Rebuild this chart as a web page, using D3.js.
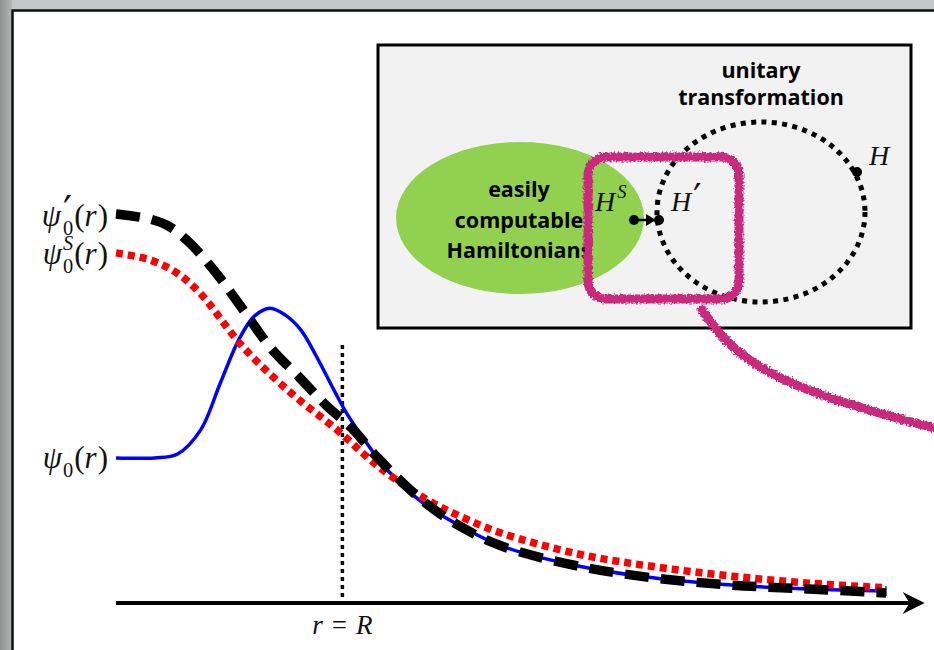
<!DOCTYPE html>
<html>
<head>
<meta charset="utf-8">
<script src="https://cdn.jsdelivr.net/npm/d3@7/dist/d3.min.js"></script>
<style>
  html, body { margin: 0; padding: 0; background: #c4c6c7; }
  svg { display: block; }
  .math { font-family: "Liberation Serif", "DejaVu Serif", serif; fill: #111; }
  .label { font-family: "Open Sans", "Lato", sans-serif; font-weight: 700; fill: #000; }
</style>
</head>
<body>
<svg id="chart" width="934" height="650"></svg>
<script>
// r in units of the axis (0..10), psi in units of psi'_0(0)
const rAxisEnd = 10.45;
const rBoundary = 2.94;
const boundaryTop = 0.663;

const psiPrimeR = [0, 0.44, 0.7, 0.97, 1.29, 1.68, 2.0, 2.39, 2.74, 3.06, 3.4, 4.0, 4.49, 5.0, 6.0, 7.0, 8.0, 9.0, 10];
const psiPrimeV = [1.0, 0.987, 0.967, 0.923, 0.851, 0.746, 0.658, 0.578, 0.506, 0.45, 0.373, 0.26, 0.195, 0.147, 0.095, 0.064, 0.046, 0.036, 0.026];

const psiSR = [0, 0.44, 0.77, 1.09, 1.65, 2.26, 2.87, 3.4, 4.0, 4.49, 5.0, 6.0, 7.0, 8.0, 9.0, 10];
const psiSV = [0.9, 0.882, 0.851, 0.797, 0.658, 0.542, 0.445, 0.352, 0.27, 0.221, 0.18, 0.126, 0.093, 0.069, 0.051, 0.039];

const psi0R = [0, 0.5, 0.8, 1.1, 1.35, 1.6, 1.8, 2.0, 2.2, 2.4, 2.6, 2.85, 3.0, 3.2, 3.5, 4.0, 4.5, 5.0, 6.0, 7.0, 8.0, 9.0, 10];
const psi0V = [0.373, 0.373, 0.383, 0.445, 0.563, 0.679, 0.738, 0.758, 0.74, 0.702, 0.635, 0.54, 0.486, 0.427, 0.347, 0.255, 0.195, 0.147, 0.095, 0.064, 0.046, 0.036, 0.031];

const svg = d3.select('#chart');
const x = d3.scaleLinear().domain([0, 10]).range([116, 886]);
const y = d3.scaleLinear().domain([0, 1]).range([603, 214]);

// window frame
const defs = svg.append('defs');
const grad = defs.append('linearGradient').attr('id', 'edge').attr('x1', 0).attr('x2', 1);
grad.append('stop').attr('offset', 0).attr('stop-color', '#8f9090');
grad.append('stop').attr('offset', 1).attr('stop-color', '#b4b5b5');
const rough = defs.append('filter').attr('id', 'rough')
  .attr('x', -0.1).attr('y', -0.1).attr('width', 1.2).attr('height', 1.2);
rough.append('feTurbulence').attr('type', 'fractalNoise').attr('baseFrequency', 0.5)
  .attr('numOctaves', 2).attr('seed', 3).attr('result', 'noise');
rough.append('feDisplacementMap').attr('in', 'SourceGraphic').attr('in2', 'noise')
  .attr('scale', 6).attr('xChannelSelector', 'R').attr('yChannelSelector', 'G');

svg.append('rect').attr('width', 934).attr('height', 650).attr('fill', '#c4c6c7');
svg.append('rect').attr('width', 12).attr('height', 650).attr('fill', 'url(#edge)');
svg.append('rect').attr('x', 12.5).attr('y', 10.5).attr('width', 940).attr('height', 650)
  .attr('fill', '#fff').attr('stroke', '#111').attr('stroke-width', 2.5);

const toPts = (rs, vs) => rs.map((r, i) => [r, vs[i]]);
const line = d3.line().x(d => x(d[0])).y(d => y(d[1])).curve(d3.curveCatmullRom.alpha(0.5));

// axis
const axisY = y(0);
svg.append('line').attr('x1', x(0)).attr('x2', x(rAxisEnd) - 6).attr('y1', axisY).attr('y2', axisY)
  .attr('stroke', '#000').attr('stroke-width', 4);
const tip = x(rAxisEnd) + 4;
svg.append('path')
  .attr('d', `M${tip},${axisY} L${tip - 22},${axisY - 11} L${tip - 15},${axisY} L${tip - 22},${axisY + 11} Z`)
  .attr('fill', '#000');

// r = R marker
svg.append('line').attr('x1', x(rBoundary)).attr('x2', x(rBoundary))
  .attr('y1', y(boundaryTop)).attr('y2', axisY - 2)
  .attr('stroke', '#000').attr('stroke-width', 3.5).attr('stroke-dasharray', '4 4');

// curves
svg.append('path').datum(toPts(psi0R, psi0V)).attr('d', line)
  .attr('fill', 'none').attr('stroke', '#0000ff').attr('stroke-width', 3.5);
svg.append('line').attr('x1', x(10)).attr('x2', x(10)).attr('y1', y(0.031) - 5).attr('y2', y(0.031) + 5)
  .attr('stroke', '#000').attr('stroke-width', 1.2);
svg.append('path').datum(toPts(psiSR, psiSV)).attr('d', line)
  .attr('fill', 'none').attr('stroke', '#ff0000').attr('stroke-width', 7.5).attr('stroke-dasharray', '7 5');
svg.append('path').datum(toPts(psiPrimeR, psiPrimeV)).attr('d', line)
  .attr('fill', 'none').attr('stroke', '#000').attr('stroke-width', 9.5).attr('stroke-dasharray', '24 12');

// math labels: one text element, parts as tspans; "stack" puts a part under the previous one
function mathLabel(px, py, parts, size, anchor) {
  const t = svg.append('text').attr('class', 'math').attr('x', px).attr('y', py)
    .attr('font-size', size);
  let level = 0, total = 0, pending = 0, prevW = 0;
  parts.forEach(p => {
    const fs = p.fs ? size * p.fs : p.pos ? size * 0.66 : size;
    const target = p.lift !== undefined ? size * p.lift
      : p.pos === 'sup' ? size * 0.45 : p.pos === 'sub' ? -size * 0.3 : 0;
    const s = t.append('tspan').attr('font-size', fs)
      .attr('font-style', p.i ? 'italic' : 'normal').text(p.t);
    if (p.font) s.style('font-family', p.font);
    let dx = pending + (p.dx || 0);
    if (p.stack) dx -= prevW;
    s.attr('dx', dx).attr('dy', level - target);
    level = target;
    const w = s.node().getComputedTextLength();
    total += dx + w;
    pending = p.gap || 0;
    if (p.stack && prevW > w) { pending += prevW - w; }
    prevW = w;
  });
  total += pending;
  const off = anchor === 'end' ? -total : anchor === 'middle' ? -total / 2 : 0;
  t.attr('x', px + off);
  return t;
}

const prime = { t: '′', fs: 1.3, lift: 0.03, dx: 1, font: 'DejaVu Sans' };
const S = 31;
mathLabel(108, 226, [
  { t: 'ψ', i: true, gap: 1 }, prime, { t: '0', pos: 'sub', stack: true, gap: 1 },
  { t: '(', lift: 0 }, { t: 'r', i: true, gap: 1 }, { t: ')' }], S, 'end');
mathLabel(108, 264, [
  { t: 'ψ', i: true, gap: 1 }, { t: 'S', i: true, pos: 'sup' }, { t: '0', pos: 'sub', stack: true, gap: 1 },
  { t: '(', lift: 0 }, { t: 'r', i: true, gap: 1 }, { t: ')' }], S, 'end');
mathLabel(108, 468, [
  { t: 'ψ', i: true, gap: 1 }, { t: '0', pos: 'sub', gap: 1 },
  { t: '(', lift: 0 }, { t: 'r', i: true, gap: 1 }, { t: ')' }], S, 'end');
mathLabel(x(rBoundary), 634, [
  { t: 'r', i: true, gap: 9 }, { t: '=', gap: 9 }, { t: 'R', i: true }], 27, 'middle');

// inset diagram
const inset = svg.append('g');
inset.append('rect').attr('x', 378).attr('y', 45).attr('width', 533).attr('height', 283)
  .attr('fill', '#f2f2f2').attr('stroke', '#000').attr('stroke-width', 3);
inset.append('ellipse').attr('cx', 520).attr('cy', 218).attr('rx', 124).attr('ry', 76)
  .attr('fill', '#92d050');
['easily', 'computable', 'Hamiltonians'].forEach((s, i) => {
  inset.append('text').attr('class', 'label').attr('x', 519).attr('y', 197 + i * 30.5)
    .attr('text-anchor', 'middle').attr('font-size', 21.5).text(s);
});
['unitary', 'transformation'].forEach((s, i) => {
  inset.append('text').attr('class', 'label').attr('x', 761).attr('y', 78 + i * 27)
    .attr('text-anchor', 'middle').attr('font-size', 21.5).text(s);
});
inset.append('ellipse').attr('cx', 761).attr('cy', 212).attr('rx', 104).attr('ry', 90)
  .attr('fill', 'none').attr('stroke', '#000').attr('stroke-width', 5).attr('stroke-dasharray', '5 5.4');

// points and arrow
[[857, 172], [659, 220], [634, 220]].forEach(([cx, cy]) => {
  inset.append('circle').attr('cx', cx).attr('cy', cy).attr('r', 5).attr('fill', '#000');
});
inset.append('line').attr('x1', 634).attr('x2', 648).attr('y1', 220).attr('y2', 220)
  .attr('stroke', '#000').attr('stroke-width', 2.5);
inset.append('path').attr('d', 'M656,220 L646,214 L646,226 Z').attr('fill', '#000');

mathLabel(869, 165, [{ t: 'H', i: true }], 28, 'start');
mathLabel(595, 211, [{ t: 'H', i: true, gap: 2 }, { t: 'S', i: true, pos: 'sup' }], 28, 'start');
mathLabel(671, 211, [{ t: 'H', i: true, gap: 1 }, prime], 28, 'start');

// highlighted region and connector
const pink = '#c92a7e';
const hl = svg.append('g').attr('filter', 'url(#rough)');
hl.append('rect').attr('x', 588).attr('y', 157).attr('width', 151).attr('height', 142).attr('rx', 18)
  .attr('fill', 'none').attr('stroke', pink).attr('stroke-width', 9);
const connector = [[702, 310], [722, 338], [752, 364], [800, 388], [860, 408], [934, 428]];
hl.append('path').datum(connector)
  .attr('d', d3.line().curve(d3.curveBasis))
  .attr('fill', 'none').attr('stroke', pink).attr('stroke-width', 9).attr('stroke-linecap', 'round');
</script>
</body>
</html>
